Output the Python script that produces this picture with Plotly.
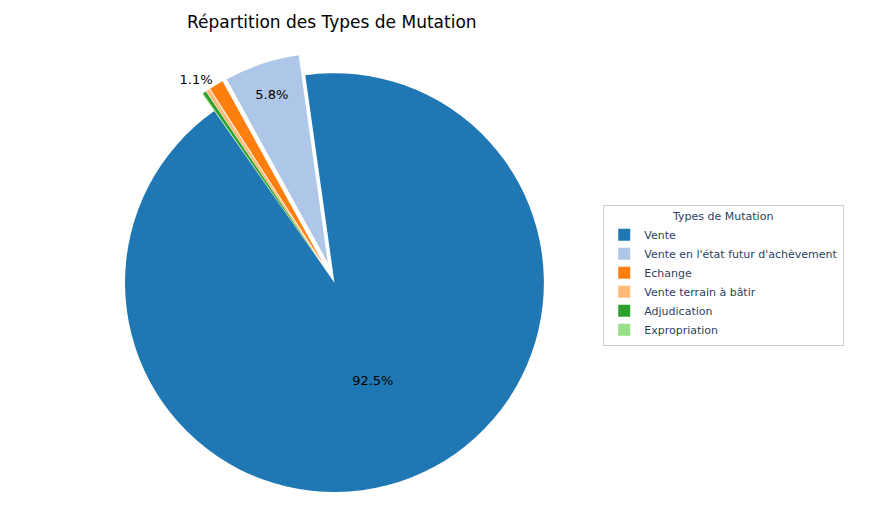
import plotly.graph_objects as go

types = [
    "Vente",
    "Vente en l'état futur d'achèvement",
    "Echange",
    "Vente terrain à bâtir",
    "Adjudication",
    "Expropriation",
]
shares = [92.5, 5.8, 1.1, 0.3, 0.25, 0.05]
explode = [0, 0.1, 0.1, 0.1, 0.1, 0.1]
colors = ["#1f77b4", "#aec7e8", "#ff7f0e", "#ffbb78", "#2ca02c", "#98df8a"]

labels_txt = [f"{v:.1f}%" if v > 1 else "" for v in shares]
text_pos = ["inside", "inside", "outside", "none", "none", "none"]

fig = go.Figure(
    go.Pie(
        labels=types,
        values=shares,
        pull=explode,
        sort=False,
        direction="counterclockwise",
        rotation=-8,
        marker=dict(colors=colors),
        text=labels_txt,
        textinfo="text",
        textposition=text_pos,
        insidetextorientation="horizontal",
        textfont=dict(size=13, color="black"),
        outsidetextfont=dict(size=13, color="black"),
        domain=dict(x=[0.06, 0.67], y=[0.0, 0.97]),
        showlegend=True,
    )
)

fig.update_layout(
    width=887,
    height=531,
    paper_bgcolor="white",
    font=dict(family="DejaVu Sans"),
    title=dict(text="Répartition des Types de Mutation", x=0.365, xanchor="center",
               y=0.985, font=dict(size=17, color="black")),
    margin=dict(l=10, r=10, t=25, b=5),
    legend=dict(
        title=dict(text="Types de Mutation", side="top center", font=dict(size=11)),
        x=0.675, y=0.5, xanchor="left", yanchor="middle",
        bordercolor="#cccccc", borderwidth=1,
        font=dict(size=11),
    ),
)

fig.write_html("out.html")
